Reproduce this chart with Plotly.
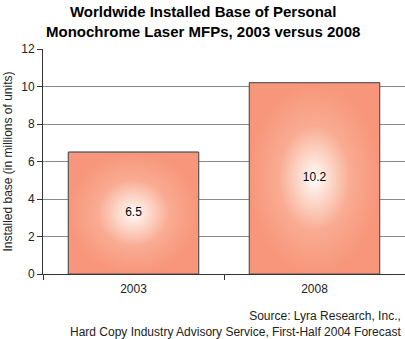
import plotly.graph_objects as go

categories = ["2003", "2008"]
values = [6.5, 10.2]
value_labels = ["6.5", "10.2"]
y_ticks = [0, 2, 4, 6, 8, 10, 12]

BAR_W = 0.72
EDGE = "#f7967a"

fig = go.Figure()

# Base bars
fig.add_trace(go.Bar(
    x=categories, y=values, width=BAR_W,
    marker=dict(color=EDGE, line=dict(color="#555555", width=1)),
    hoverinfo="skip", showlegend=False,
))

# Radial gradient overlay on a linear twin x axis (same geometry as the category axis)
for i, v in enumerate(values):
    x0, x1 = i - BAR_W / 2, i + BAR_W / 2
    fig.add_trace(go.Scatter(
        x=[x0, x1, x1, x0, x0], y=[0, 0, v, v, 0],
        xaxis="x2", mode="lines", fill="toself",
        line=dict(color="#555555", width=1),
        fillgradient=dict(type="radial",
                          colorscale=[[0, "#ffffff"], [0.15, "#fde6dc"], [0.55, "#f9ab92"], [1, EDGE]]),
        hoverinfo="skip", showlegend=False,
    ))

# Value labels at the middle of each bar (on the overlay axis so they sit above the gradient)
fig.add_trace(go.Scatter(
    x=list(range(len(values))), y=[v / 2 for v in values], mode="text", xaxis="x2",
    text=value_labels, textfont=dict(family="Arial, Liberation Sans", size=12, color="#000000"),
    hoverinfo="skip", showlegend=False,
))

fig.update_layout(
    width=405, height=339,
    margin=dict(l=43, r=0, t=49, b=65),
    paper_bgcolor="white", plot_bgcolor="white",
    font=dict(family="Arial, Liberation Sans", size=12, color="#222222"),
    xaxis=dict(
        type="category", range=[-0.5, 1.5],
        tickson="boundaries", ticks="outside", ticklen=5, tickcolor="#333333",
        ticklabelstandoff=4,
        showline=True, linecolor="#333333", linewidth=1,
        showgrid=False, tickfont=dict(size=12, color="#222222"),
    ),
    xaxis2=dict(overlaying="x", range=[-0.5, 1.5], visible=False),
    yaxis=dict(
        range=[0, 12], tickvals=y_ticks, ticks="outside", ticklen=5, tickcolor="#333333",
        showline=True, linecolor="#333333", linewidth=1,
        showgrid=True, gridcolor="#8a8a8a", gridwidth=1, zeroline=False,
        tickfont=dict(size=12, color="#222222"),
        title=dict(text="Installed base (in millions of units)", standoff=6,
                   font=dict(size=12, color="#222222")),
    ),
    annotations=[
        dict(
            text="<b>Worldwide Installed Base of Personal<br>Monochrome Laser MFPs, 2003 versus 2008</b>",
            xref="paper", yref="paper", x=(202.5 - 43) / 362, y=1.03,
            xanchor="center", yanchor="bottom", align="center", showarrow=False,
            font=dict(family="Arial, Liberation Sans", size=15, color="#000000"),
        ),
        dict(
            text="Source: Lyra Research, Inc.,<br>Hard Copy Industry Advisory Service, First-Half 2004 Forecast",
            xref="paper", yref="paper", x=0.995, y=-0.296, xanchor="right", yanchor="bottom",
            align="right", showarrow=False, font=dict(size=12, color="#222222"),
        ),
    ],
)

fig.write_html("out.html")
